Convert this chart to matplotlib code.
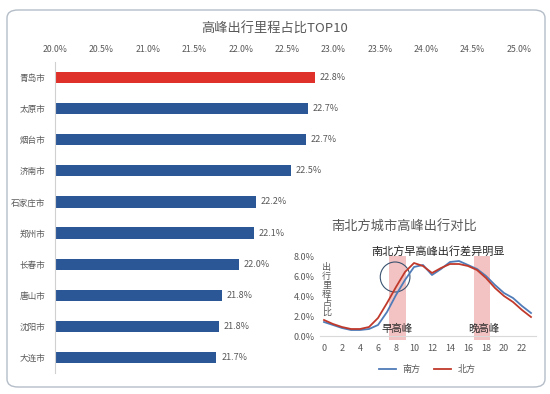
import matplotlib.pyplot as plt
from matplotlib.patches import FancyBboxPatch, Ellipse
from matplotlib.ticker import FuncFormatter

plt.rcParams['font.family'] = ['Noto Sans CJK SC', 'DejaVu Sans']

# top 10 cities, share of peak-hour mileage (%)
cities = ['青岛市', '太原市', '烟台市', '济南市', '石家庄市',
          '郑州市', '长春市', '唐山市', '沈阳市', '大连市']
shares = [22.80, 22.73, 22.70, 22.54, 22.17, 22.14, 21.98, 21.80, 21.77, 21.74]
x_ticks = [20.0, 20.5, 21.0, 21.5, 22.0, 22.5, 23.0, 23.5, 24.0, 24.5, 25.0]

# hourly travel share, north vs south (%)
hours = list(range(24))
north = [1.6, 1.2, 0.9, 0.7, 0.7, 0.9, 1.8, 3.3, 4.9, 6.4, 7.3, 7.0,
         6.3, 6.8, 7.2, 7.2, 7.0, 6.6, 5.8, 4.8, 4.0, 3.4, 2.6, 1.9]
south = [1.4, 1.1, 0.8, 0.6, 0.6, 0.7, 1.1, 2.4, 4.1, 5.6, 6.9, 7.1,
         6.1, 6.7, 7.4, 7.5, 7.1, 6.7, 6.0, 5.1, 4.3, 3.8, 3.0, 2.3]
inset_xticks = [0, 2, 4, 6, 8, 10, 12, 14, 16, 18, 20, 22]
inset_yticks = [0, 2, 4, 6, 8]

RED = '#E0302A'
BLUE = '#2B5797'
GREY = '#595959'

fig = plt.figure(figsize=(5.5, 3.94), dpi=100)
W, H = 550, 394

def fx(px):
    return px / W

def fy(py):
    return 1 - py / H

# outer rounded frame
frame = FancyBboxPatch((fx(7), fy(387)), fx(538), 377 / H,
                       boxstyle='round,pad=0,rounding_size=0.02',
                       transform=fig.transFigure, fill=False,
                       ec='#B4BDC8', lw=1.0)
fig.patches.append(frame)

fig.text(fx(275), fy(29), '高峰出行里程占比TOP10', ha='center', va='center',
         fontsize=9.5, color=GREY)

# main bar chart
ax = fig.add_axes([fx(55), fy(373), fx(464), 311 / H])
colors = [RED] + [BLUE] * (len(cities) - 1)
ypos = list(range(len(cities)))
ax.barh(ypos, [s - 20 for s in shares], left=20, height=0.36, color=colors)
ax.set_ylim(len(cities) - 0.5, -0.5)
ax.set_xlim(20, 25)
ax.set_xticks(x_ticks)
ax.xaxis.set_major_formatter(FuncFormatter(lambda v, p: f'{v:.1f}%'))
ax.xaxis.tick_top()
ax.tick_params(axis='x', length=0, labelsize=6.3, labelcolor=GREY, pad=6)
ax.set_yticks(ypos)
ax.set_yticklabels(cities)
ax.tick_params(axis='y', length=0, labelsize=6.2, labelcolor=GREY, pad=7)
for s in ['top', 'right', 'bottom']:
    ax.spines[s].set_visible(False)
ax.spines['left'].set_color('#D0D0D0')
ax.patch.set_alpha(0)
for y, s in zip(ypos, shares):
    ax.text(s + 0.05, y, f'{s:.1f}%', va='center', ha='left',
            fontsize=6.5, color=GREY)

# inset: north vs south
fig.text(fx(331), fy(227), '南北方城市高峰出行对比', ha='left', va='center',
         fontsize=9.5, color=GREY)
ia = fig.add_axes([fx(319.5), fy(336), fx(216), 80 / H])
ia.patch.set_alpha(0)
ia.axvspan(7.2, 9.1, ymin=-0.05, ymax=1.0, color='#F2B8B8', alpha=0.85,
           lw=0, clip_on=False)
ia.axvspan(16.7, 18.4, ymin=-0.05, ymax=1.0, color='#F2B8B8', alpha=0.85,
           lw=0, clip_on=False)
ia.plot(hours, south, color='#4F7CB8', lw=1.3, label='南方')
ia.plot(hours, north, color='#C0392B', lw=1.3, label='北方')
ia.set_xlim(-0.5, 23.5)
ia.set_ylim(0, 8)
ia.set_xticks(inset_xticks)
ia.set_yticks(inset_yticks)
ia.yaxis.set_major_formatter(FuncFormatter(lambda v, p: f'{v:.1f}%'))
ia.tick_params(length=0, labelsize=6.5, labelcolor=GREY)
ia.tick_params(axis='x', pad=6)
for s in ['top', 'right', 'left']:
    ia.spines[s].set_visible(False)
ia.spines['bottom'].set_color('#D9D9D9')
ia.add_patch(Ellipse((7.9, 5.9), 3.3, 3.0, fill=False, ec='#3B5370', lw=0.8))
ia.text(0.3, 7.3, '\n'.join('出行里程占比'), ha='center', va='top',
        fontsize=6.5, color=GREY, linespacing=1.0)
fig.text(fx(438), fy(251), '南北方早高峰出行差异明显', ha='center', va='center',
         fontsize=8, color='#262626')
ia.text(8.1, 0.7, '早高峰', ha='center', va='center', fontsize=7.5,
        color='#262626')
ia.text(17.7, 0.7, '晚高峰', ha='center', va='center', fontsize=7.5,
        color='#262626')
ia.legend(loc='upper center', bbox_to_anchor=(0.5, -0.26), ncol=2,
          frameon=False, fontsize=6.5, handlelength=1.8, columnspacing=1.5,
          labelcolor=GREY)

fig.savefig('out.png', dpi=100)
